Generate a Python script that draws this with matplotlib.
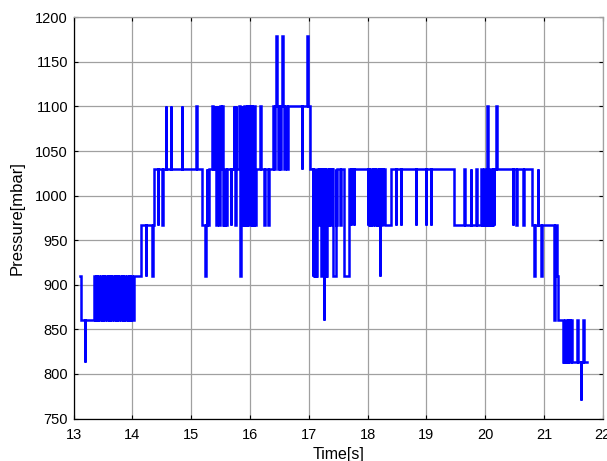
import matplotlib
matplotlib.use("Agg")
import matplotlib.pyplot as plt
import numpy as np

plt.rcParams['font.family'] = ['Liberation Sans', 'DejaVu Sans']

# ---- data: step changes (time [s], pressure [mbar]) ----
t_start = [13.11, 13.125, 13.19, 13.20]
p_start = [910, 860, 813, 860]

t_osc1 = [13.34, 13.36, 13.38, 13.40, 13.42, 13.44, 13.46, 13.48, 13.50, 13.52,
          13.54, 13.56, 13.58, 13.60, 13.62, 13.64, 13.66, 13.68, 13.70, 13.72,
          13.74, 13.76, 13.78, 13.80, 13.82, 13.84, 13.86, 13.88, 13.90, 13.92,
          13.94, 13.96, 13.98, 14.00, 14.03]
p_osc1 = [910, 860, 910, 860, 910, 860, 910, 860, 910, 860,
          910, 860, 910, 860, 910, 860, 910, 860, 910, 860,
          910, 860, 910, 860, 910, 860, 910, 860, 910, 860,
          910, 860, 910, 860, 910]

t_rise = [14.15, 14.23, 14.24, 14.335, 14.345, 14.36, 14.43, 14.44, 14.505, 14.515,
          14.57, 14.58, 14.655, 14.665, 14.84, 14.85, 15.09, 15.10]
p_rise = [967, 910, 967, 910, 967, 1030, 967, 1030, 967, 1030,
          1100, 1030, 1100, 1030, 1100, 1030, 1100, 1030]

t_mid1 = [15.185, 15.235, 15.245, 15.27, 15.275, 15.30, 15.355, 15.365, 15.38, 15.39,
          15.42, 15.425, 15.44, 15.45, 15.46, 15.48, 15.49, 15.50, 15.53, 15.54,
          15.55, 15.565, 15.575, 15.60, 15.61, 15.67, 15.68, 15.72, 15.73, 15.75,
          15.76, 15.77, 15.815, 15.83, 15.84]
p_mid1 = [967, 910, 967, 1030, 967, 1030, 1100, 1030, 1100, 1030,
          1100, 967, 1030, 1100, 1030, 967, 1100, 1030, 1100, 967,
          1030, 967, 1030, 967, 1030, 967, 1030, 1100, 1030, 967,
          1100, 1030, 1100, 910, 1030]

t_osc2 = [15.86, 15.87, 15.88, 15.89, 15.90, 15.91, 15.925, 15.935, 15.95, 15.96,
          15.975, 15.985, 16.00, 16.01, 16.025, 16.035, 16.05, 16.06, 16.075, 16.085, 16.10]
p_osc2 = [1100, 967, 1100, 967, 1100, 967, 1100, 967, 1100, 967,
          1100, 967, 1100, 967, 1100, 967, 1100, 967, 1100, 967, 1030]

t_peak = [16.17, 16.18, 16.245, 16.255, 16.315, 16.325, 16.40, 16.415, 16.425, 16.45,
          16.46, 16.48, 16.49, 16.51, 16.52, 16.55, 16.56, 16.58, 16.59, 16.635,
          16.645, 16.88, 16.89, 16.975, 16.985, 17.025]
p_peak = [1100, 1030, 967, 1030, 967, 1030, 1100, 1030, 1100, 1179,
          1100, 1030, 1100, 1030, 1100, 1179, 1100, 1030, 1100, 1030,
          1100, 1030, 1100, 1179, 1100, 1030]

t_mid2 = [17.07, 17.08, 17.09, 17.10, 17.11, 17.12, 17.125, 17.145, 17.16, 17.17,
          17.185, 17.195, 17.215, 17.225, 17.235, 17.245, 17.255, 17.265, 17.275, 17.285,
          17.30, 17.31, 17.33, 17.34, 17.36, 17.37, 17.39, 17.40, 17.42, 17.455,
          17.47, 17.48, 17.53, 17.54, 17.595, 17.69, 17.715, 17.725, 17.765, 17.775]
p_mid2 = [910, 1030, 910, 1030, 910, 1030, 910, 1030, 967, 1030,
          967, 1030, 910, 1030, 910, 1030, 860, 1030, 910, 1030,
          910, 1030, 967, 1030, 967, 1030, 967, 1030, 910, 1030,
          967, 1030, 967, 1030, 910, 1030, 967, 1030, 967, 1030]

t_mid3 = [18.00, 18.01, 18.025, 18.035, 18.05, 18.06, 18.08, 18.09, 18.105, 18.115,
          18.13, 18.14, 18.16, 18.17, 18.185, 18.195, 18.205, 18.215, 18.23, 18.24,
          18.26, 18.27, 18.305, 18.40, 18.48, 18.49, 18.565, 18.575, 18.82, 18.83,
          18.99, 19.00, 19.075, 19.085]
p_mid3 = [967, 1030, 967, 1030, 967, 1030, 967, 1030, 967, 1030,
          967, 1030, 967, 1030, 967, 1030, 910, 1030, 967, 1030,
          967, 1030, 967, 1030, 967, 1030, 967, 1030, 967, 1030,
          967, 1030, 967, 1030]

t_mid4 = [19.475, 19.645, 19.655, 19.755, 19.765, 19.845, 19.855, 19.93, 19.94, 19.96,
          19.97, 19.985, 19.995, 20.01, 20.02, 20.035, 20.045, 20.06, 20.07, 20.085,
          20.095, 20.11, 20.12, 20.135, 20.145, 20.155, 20.185, 20.195]
p_mid4 = [967, 1030, 967, 1030, 967, 1030, 967, 1030, 967, 1030,
          967, 1030, 967, 1030, 967, 1100, 967, 1030, 967, 1030,
          967, 1030, 967, 1030, 967, 1030, 1100, 1030]

t_fall = [20.47, 20.48, 20.525, 20.535, 20.645, 20.655, 20.79, 20.83, 20.84, 20.895,
          20.905, 20.955, 20.965, 21.18, 21.19, 21.225, 21.24, 21.33, 21.34, 21.35,
          21.36, 21.375, 21.385, 21.40, 21.41, 21.425, 21.435, 21.45, 21.46, 21.47,
          21.565, 21.575, 21.625, 21.635, 21.665, 21.675, 21.74]
p_fall = [967, 1030, 967, 1030, 967, 1030, 967, 910, 967, 1030,
          967, 910, 967, 860, 967, 910, 860, 813, 860, 813,
          860, 813, 860, 813, 860, 813, 860, 813, 860, 813,
          860, 813, 771, 813, 860, 813, 813]

x_ticks = [13, 14, 15, 16, 17, 18, 19, 20, 21, 22]
y_ticks = [750, 800, 850, 900, 950, 1000, 1050, 1100, 1150, 1200]

time_s = np.array(t_start + t_osc1 + t_rise + t_mid1 + t_osc2 + t_peak
                  + t_mid2 + t_mid3 + t_mid4 + t_fall)
pressure = np.array(p_start + p_osc1 + p_rise + p_mid1 + p_osc2 + p_peak
                    + p_mid2 + p_mid3 + p_mid4 + p_fall)

# ---- figure ----
W, H = 607, 461
fig = plt.figure(figsize=(W / 100, H / 100), dpi=100)
l, r, top, bot = 73.6, 602.7, 17.3, 418.5
ax = fig.add_axes([l / W, 1 - bot / H, (r - l) / W, (bot - top) / H])

ax.plot(time_s, pressure, drawstyle='steps-post', color='#0000ff', lw=1.8,
        solid_joinstyle='miter', zorder=3)

ax.set_xlim(13, 22)
ax.set_ylim(750, 1200)
ax.set_xticks(x_ticks)
ax.set_yticks(y_ticks)
ax.grid(True, color='#a0a0a0', lw=0.9, zorder=0)
ax.set_axisbelow(True)

for side in ['left', 'bottom']:
    ax.spines[side].set_color('black')
    ax.spines[side].set_linewidth(0.9)
for side in ['top', 'right']:
    ax.spines[side].set_color('#a0a0a0')
    ax.spines[side].set_linewidth(0.9)

ax.tick_params(direction='in', length=3, width=0.8, color='black',
               top=True, right=True, labelsize=10.5)
ax.tick_params(axis='x', pad=7)
ax.tick_params(axis='y', pad=4)

ax.set_xlabel('Time[s]', fontsize=11.5)
ax.set_ylabel('Pressure[mbar]', fontsize=12)
ax.xaxis.set_label_coords(0.5, -0.072)
ax.yaxis.set_label_coords(-0.093, 0.5)

fig.savefig('out.png', dpi=100)
